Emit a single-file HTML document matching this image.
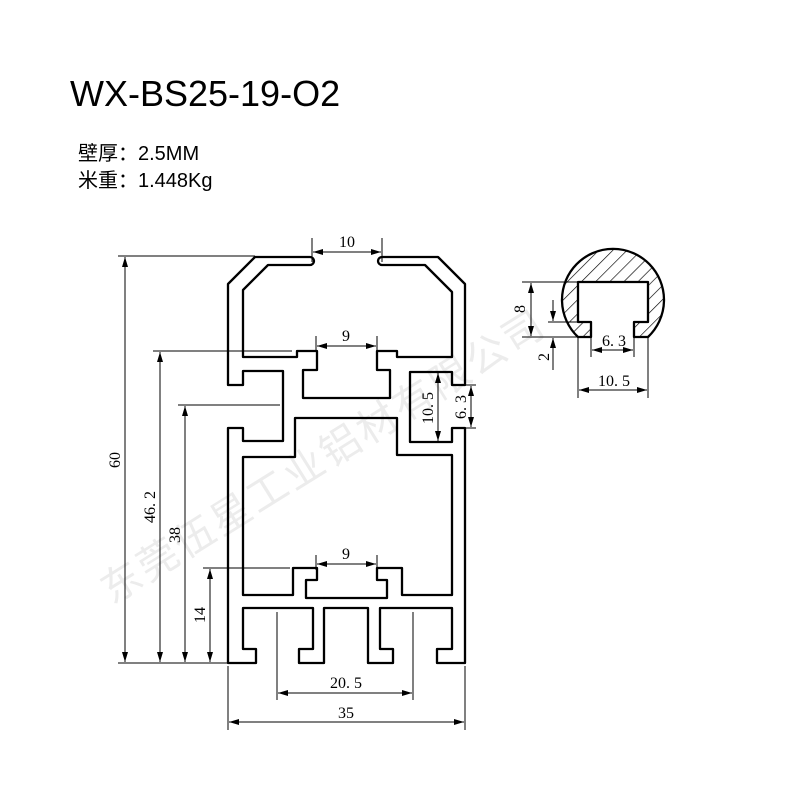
<!DOCTYPE html>
<html><head><meta charset="utf-8"><style>
body{margin:0;background:#fff;}
svg{display:block}
.t{font-family:"Liberation Serif","Noto Serif CJK SC",serif;font-size:16px;fill:#000}
</style></head><body>
<svg width="800" height="800" viewBox="0 0 800 800" xmlns="http://www.w3.org/2000/svg">
<defs>
<marker id="a" viewBox="0 0 10 6" refX="10" refY="3" markerWidth="10" markerHeight="6" orient="auto-start-reverse" markerUnits="userSpaceOnUse"><path d="M0,0L10,3L0,6z" fill="#000"/></marker>
<pattern id="h" width="10" height="10" patternUnits="userSpaceOnUse" patternTransform="rotate(45)"><line x1="0" y1="0" x2="0" y2="10" stroke="#000" stroke-width="1.3"/></pattern>
</defs>
<text x="70" y="106" font-family="Liberation Sans, sans-serif" font-size="36">WX-BS25-19-O2</text>
<text x="78" y="160" font-family="Liberation Sans, Noto Sans CJK SC, sans-serif" font-size="20">壁厚：2.5MM</text>
<text x="78" y="187" font-family="Liberation Sans, Noto Sans CJK SC, sans-serif" font-size="20">米重：1.448Kg</text>
<text x="0" y="0" transform="translate(112,605) rotate(-32)" font-family="Noto Sans CJK SC, sans-serif" font-size="40" fill="#ececec" letter-spacing="3">东莞伍星工业铝材有限公司</text>

<g fill="none" stroke="#000" stroke-width="2.3" stroke-linejoin="round">
<path d="M310,257 L255,257 L228,284 L228,385 L243,385 L243,371 L283,371 L283,441 L243,441 L243,428 L228,428 L228,663 L256,663 L256,649 L243,649 L243,608 L313,608 L313,649 L299,649 L299,663 L324,663 L324,608 L368,608 L368,663 L393,663 L393,649 L380,649 L380,608 L452,608 L452,649 L437,649 L437,663 L465,663 L465,428 L452,428 L452,442 L410,442 L410,372 L452,372 L452,385 L465,385 L465,284 L438,257 L382,257 A4,4 0 0 0 382,265 L425,265 L452,292 L452,357 L397,357 L397,351 L377,351 L377,370 L390,370 L390,398 L303,398 L303,370 L317,370 L317,351 L297,351 L297,357 L243,357 L243,290 L268,265 L310,265 A4,4 0 0 0 310,257 Z"/>
<path d="M243,457 L295,457 L295,418 L397,418 L397,455 L452,455 L452,595 L402,595 L402,568 L377,568 L377,580 L387,580 L387,598 L306,598 L306,580 L317,580 L317,568 L293,568 L293,595 L243,595 Z"/>
<path d="M578,337 A51,51 0 1 1 648,337 L634,337 L634,322 L648,322 L648,282 L578,282 L578,322 L591,322 L591,337 Z" fill="url(#h)"/>
</g>

<g stroke="#000" stroke-width="1" fill="none">
<line x1="312" y1="238" x2="312" y2="262"/><line x1="382" y1="238" x2="382" y2="262"/>
<line x1="313" y1="252" x2="381" y2="252" marker-start="url(#a)" marker-end="url(#a)"/>
<line x1="316" y1="336" x2="316" y2="352"/><line x1="377" y1="336" x2="377" y2="352"/>
<line x1="317" y1="346" x2="376" y2="346" marker-start="url(#a)" marker-end="url(#a)"/>
<line x1="316" y1="555" x2="316" y2="570"/><line x1="377" y1="555" x2="377" y2="570"/>
<line x1="317" y1="564" x2="376" y2="564" marker-start="url(#a)" marker-end="url(#a)"/>
<line x1="438" y1="373" x2="438" y2="441" marker-start="url(#a)" marker-end="url(#a)"/>
<line x1="465" y1="385" x2="476" y2="385"/><line x1="465" y1="428" x2="476" y2="428"/>
<line x1="471" y1="386" x2="471" y2="427" marker-start="url(#a)" marker-end="url(#a)"/>
<line x1="118" y1="256" x2="255" y2="256"/><line x1="118" y1="663" x2="228" y2="663"/>
<line x1="125" y1="257" x2="125" y2="662" marker-start="url(#a)" marker-end="url(#a)"/>
<line x1="153" y1="351" x2="292" y2="351"/><line x1="153" y1="663" x2="228" y2="663"/>
<line x1="160" y1="352" x2="160" y2="662" marker-start="url(#a)" marker-end="url(#a)"/>
<line x1="178" y1="405" x2="280" y2="405"/>
<line x1="185" y1="406" x2="185" y2="662" marker-start="url(#a)" marker-end="url(#a)"/>
<line x1="203" y1="568" x2="290" y2="568"/>
<line x1="210" y1="569" x2="210" y2="662" marker-start="url(#a)" marker-end="url(#a)"/>
<line x1="277" y1="612" x2="277" y2="700"/><line x1="413" y1="612" x2="413" y2="700"/>
<line x1="278" y1="693" x2="412" y2="693" marker-start="url(#a)" marker-end="url(#a)"/>
<line x1="228" y1="666" x2="228" y2="730"/><line x1="465" y1="666" x2="465" y2="730"/>
<line x1="229" y1="722" x2="464" y2="722" marker-start="url(#a)" marker-end="url(#a)"/>
<line x1="522" y1="282" x2="578" y2="282"/><line x1="522" y1="337" x2="578" y2="337"/>
<line x1="531" y1="283" x2="531" y2="336" marker-start="url(#a)" marker-end="url(#a)"/>
<line x1="548" y1="322" x2="578" y2="322"/>
<line x1="553" y1="300" x2="553" y2="321" marker-end="url(#a)"/>
<line x1="553" y1="370" x2="553" y2="338" marker-end="url(#a)"/>
<line x1="591" y1="337" x2="591" y2="357"/><line x1="634" y1="337" x2="634" y2="357"/>
<line x1="592" y1="350" x2="633" y2="350" marker-start="url(#a)" marker-end="url(#a)"/>
<line x1="578" y1="337" x2="578" y2="398"/><line x1="648" y1="337" x2="648" y2="398"/>
<line x1="579" y1="390" x2="647" y2="390" marker-start="url(#a)" marker-end="url(#a)"/>
</g>

<g class="t" text-anchor="middle">
<text x="347" y="247">10</text>
<text x="346" y="341">9</text>
<text x="346" y="559">9</text>
<text x="346" y="688">20. 5</text>
<text x="346" y="718">35</text>
<text transform="translate(433,408) rotate(-90)">10. 5</text>
<text transform="translate(466,407) rotate(-90)">6. 3</text>
<text transform="translate(120,460) rotate(-90)">60</text>
<text transform="translate(155,507) rotate(-90)">46. 2</text>
<text transform="translate(180,535) rotate(-90)">38</text>
<text transform="translate(205,615) rotate(-90)">14</text>
<text transform="translate(525,309) rotate(-90)">8</text>
<text transform="translate(549,357) rotate(-90)">2</text>
<text x="614" y="346">6. 3</text>
<text x="614" y="386">10. 5</text>
</g>
</svg>
</body></html>
